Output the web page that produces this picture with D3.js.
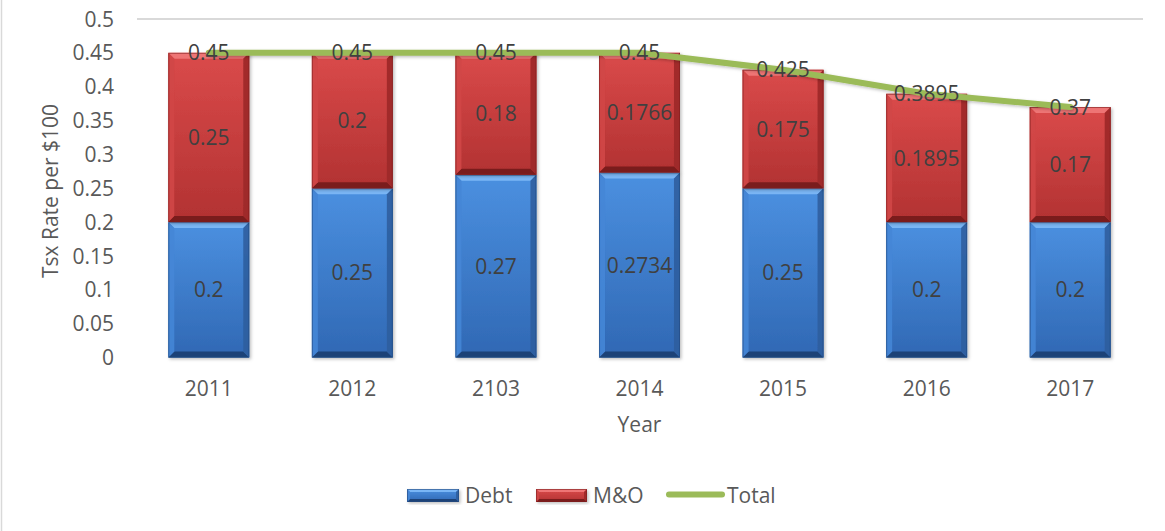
<!DOCTYPE html>
<html>
<head>
<meta charset="utf-8">
<script src="https://cdn.jsdelivr.net/npm/d3@7"></script>
<style>
  body { margin: 0; background: #fff; }
  svg { display: block; font-family: "Open Sans", sans-serif; }
</style>
</head>
<body>
<div id="chart"></div>
<script>
// values
var years = ["2011", "2012", "2103", "2014", "2015", "2016", "2017"];
var debt = [0.2, 0.25, 0.27, 0.2734, 0.25, 0.2, 0.2];
var mo = [0.25, 0.2, 0.18, 0.1766, 0.175, 0.1895, 0.17];
var total = [0.45, 0.45, 0.45, 0.45, 0.425, 0.3895, 0.37];
var yTicks = [0, 0.05, 0.1, 0.15, 0.2, 0.25, 0.3, 0.35, 0.4, 0.45, 0.5];

var width = 1165, height = 531;
var fs = 21;

var svg = d3.select("#chart").append("svg")
    .attr("width", width)
    .attr("height", height);

// outer frame (only the left edge shows in the picture)
svg.append("rect")
    .attr("x", 1.5).attr("y", -2)
    .attr("width", width + 4).attr("height", height + 4)
    .attr("fill", "none")
    .attr("stroke", "#d9d9d9")
    .attr("stroke-width", 1.5);

var x = d3.scaleBand()
    .domain(years)
    .range([137, 1142])
    .paddingInner(0.436)
    .paddingOuter(0.218);

var y = d3.scaleLinear()
    .domain([0, 0.5])
    .range([357.5, 19]);

var styles = {
    debt: { top: "#7ab6f5", faceA: "#4b90e0", faceB: "#3068b4", left: "#4586d6", right: "#2d5e9e", bottom: "#1f4377", line: "#23497f" },
    mo:   { top: "#ee7474", faceA: "#da4a4a", faceB: "#b23232", left: "#d04646", right: "#9c2929", bottom: "#7a1c1c", line: "#7f2020" }
};

var defs = svg.append("defs");
Object.keys(styles).forEach(function(k) {
    var g = defs.append("linearGradient")
        .attr("id", "grad-" + k)
        .attr("x1", 0).attr("y1", 0).attr("x2", 0).attr("y2", 1);
    g.append("stop").attr("offset", "0%").attr("stop-color", styles[k].faceA);
    g.append("stop").attr("offset", "100%").attr("stop-color", styles[k].faceB);
});
var shadow = defs.append("filter").attr("id", "shadow")
    .attr("x", "-10%").attr("y", "-10%").attr("width", "130%").attr("height", "130%");
shadow.append("feDropShadow")
    .attr("dx", 1.5).attr("dy", 1.5).attr("stdDeviation", 1.5)
    .attr("flood-color", "#000").attr("flood-opacity", 0.25);

// beveled box like the office 3-D bars
function bevelBox(g, x0, y0, w, h, k, b) {
    var s = styles[k];
    var x1 = x0 + w, y1 = y0 + h;
    var bb = Math.min(b, h / 2);
    var box = g.append("g").attr("filter", "url(#shadow)");
    box.append("rect")
        .attr("x", x0).attr("y", y0).attr("width", w).attr("height", h)
        .attr("fill", "url(#grad-" + k + ")");
    var pts = function(a) { return a.map(function(p) { return p.join(","); }).join(" "); };
    box.append("polygon").attr("fill", s.top)
        .attr("points", pts([[x0, y0], [x1, y0], [x1 - bb, y0 + bb], [x0 + bb, y0 + bb]]));
    box.append("polygon").attr("fill", s.bottom)
        .attr("points", pts([[x0, y1], [x1, y1], [x1 - bb, y1 - bb], [x0 + bb, y1 - bb]]));
    box.append("polygon").attr("fill", s.left).attr("opacity", 0.9)
        .attr("points", pts([[x0, y0], [x0 + bb, y0 + bb], [x0 + bb, y1 - bb], [x0, y1]]));
    box.append("polygon").attr("fill", s.right).attr("opacity", 0.9)
        .attr("points", pts([[x1, y0], [x1 - bb, y0 + bb], [x1 - bb, y1 - bb], [x1, y1]]));
    box.append("rect")
        .attr("x", x0 + 0.5).attr("y", y0 + 0.5).attr("width", w - 1).attr("height", h - 1)
        .attr("fill", "none").attr("stroke", s.line).attr("stroke-opacity", 0.6);
}

// gridline (only the top one is visible)
svg.append("line")
    .attr("x1", 137).attr("x2", 1143)
    .attr("y1", y(0.5)).attr("y2", y(0.5))
    .attr("stroke", "#d9d9d9").attr("stroke-width", 2);

// y tick labels
svg.append("g").selectAll("text")
    .data(yTicks)
    .join("text")
    .attr("x", 114)
    .attr("y", function(d) { return y(d); })
    .attr("dy", "0.36em")
    .attr("text-anchor", "end")
    .attr("font-size", fs)
    .attr("fill", "#595959")
    .text(function(d) { return String(d); });

// x tick labels
svg.append("g").selectAll("text")
    .data(years)
    .join("text")
    .attr("x", function(d) { return x(d) + x.bandwidth() / 2; })
    .attr("y", 396)
    .attr("text-anchor", "middle")
    .attr("font-size", fs)
    .attr("fill", "#595959")
    .text(function(d) { return d; });

// axis titles
svg.append("text")
    .attr("transform", "translate(58,191) rotate(-90)")
    .attr("text-anchor", "middle")
    .attr("font-size", fs)
    .attr("fill", "#595959")
    .text("Tsx Rate per $100");

svg.append("text")
    .attr("x", 639.5).attr("y", 432)
    .attr("text-anchor", "middle")
    .attr("font-size", fs)
    .attr("fill", "#595959")
    .text("Year");

// stacked bars
var bars = svg.append("g");
years.forEach(function(yr, i) {
    var bx = x(yr), bw = x.bandwidth();
    bevelBox(bars, bx, y(debt[i]), bw, y(0) - y(debt[i]), "debt", 6);
    bevelBox(bars, bx, y(debt[i] + mo[i]), bw, y(debt[i]) - y(debt[i] + mo[i]), "mo", 6);
});

// total line
var line = d3.line()
    .x(function(d, i) { return x(years[i]) + x.bandwidth() / 2; })
    .y(function(d) { return y(d); });

svg.append("path")
    .datum(total)
    .attr("d", line)
    .attr("fill", "none")
    .attr("stroke", "#9bbb59")
    .attr("stroke-width", 6)
    .attr("stroke-linecap", "round")
    .attr("stroke-linejoin", "round")
    .attr("filter", "url(#shadow)");

// data labels
var labels = svg.append("g")
    .attr("font-size", fs)
    .attr("fill", "#404040")
    .attr("text-anchor", "middle");

years.forEach(function(yr, i) {
    var cx = x(yr) + x.bandwidth() / 2;
    labels.append("text").attr("x", cx).attr("y", y(debt[i] / 2)).attr("dy", "0.36em").text(String(debt[i]));
    labels.append("text").attr("x", cx).attr("y", y(debt[i] + mo[i] / 2)).attr("dy", "0.36em").text(String(mo[i]));
    labels.append("text").attr("x", cx).attr("y", y(total[i])).attr("dy", "0.36em").text(String(total[i]));
});

// legend
var legend = svg.append("g").attr("font-size", fs).attr("fill", "#595959");
bevelBox(legend, 407, 489, 52, 13, "debt", 3);
legend.append("text").attr("x", 465).attr("y", 495.5).attr("dy", "0.36em").text("Debt");
bevelBox(legend, 536, 489, 51, 13, "mo", 3);
legend.append("text").attr("x", 593).attr("y", 495.5).attr("dy", "0.36em").text("M&O");
legend.append("line")
    .attr("x1", 669).attr("x2", 722).attr("y1", 494.5).attr("y2", 494.5)
    .attr("stroke", "#9bbb59").attr("stroke-width", 6).attr("stroke-linecap", "round");
legend.append("text").attr("x", 727).attr("y", 495.5).attr("dy", "0.36em").text("Total");
</script>
</body>
</html>
